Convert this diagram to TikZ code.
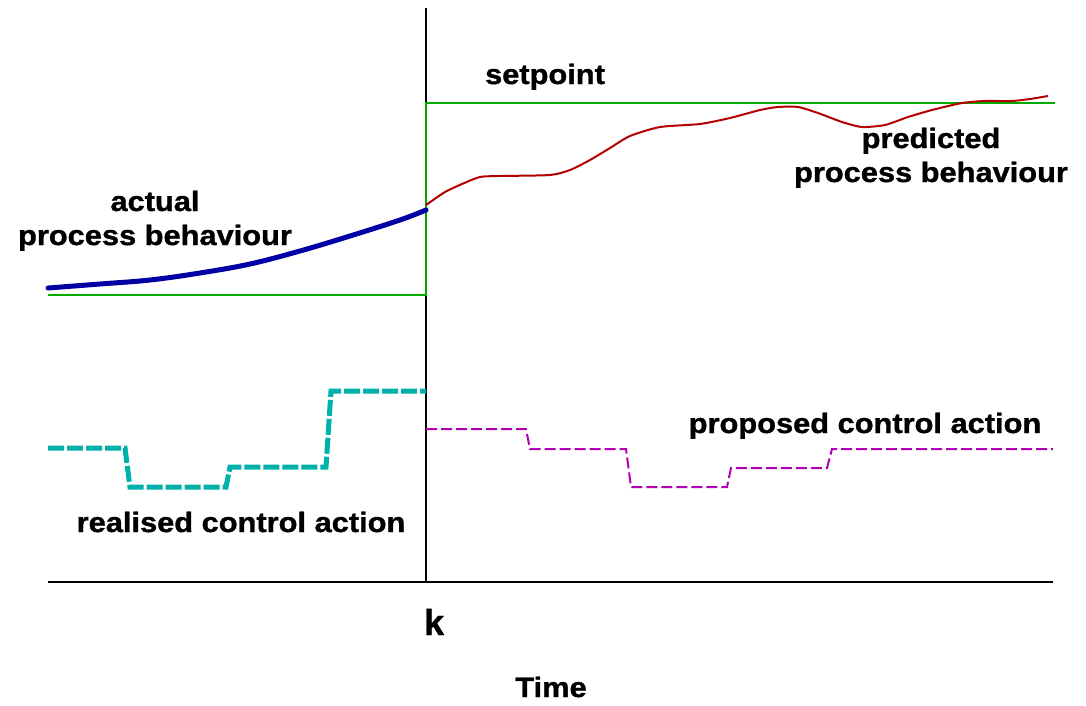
\documentclass[tikz,border=0pt]{standalone}
\usepackage{fontspec}
\newfontfamily\labfont[FakeStretch=1.1, BoldFeatures={FakeBold=1.2}]{Liberation Sans}
\newfontfamily\kfont[BoldFeatures={FakeBold=1.2}]{Liberation Sans}
\definecolor{spgreen}{RGB}{0,170,0}
\definecolor{actblue}{RGB}{0,0,165}
\definecolor{predred}{RGB}{180,0,0}
\definecolor{realteal}{RGB}{0,176,170}
\definecolor{propmag}{RGB}{180,0,180}
\tikzset{
  lab/.style={font=\labfont\bfseries\fontsize{28}{34}\selectfont, align=center, inner sep=0pt, anchor=base},
  axisline/.style={draw=black, line width=1.8pt},
  spline/.style={draw=spgreen, line width=2.2pt},
  actline/.style={draw=actblue, line width=5pt, line cap=round},
  predline/.style={draw=predred, line width=2pt, line join=round},
  realline/.style={draw=realteal, line width=5pt, dash pattern=on 16pt off 3pt},
  propline/.style={draw=propmag, line width=2pt, dash pattern=on 11pt off 4pt},
}
\begin{document}
\begin{tikzpicture}[x=1pt,y=-1pt]
\useasboundingbox (0,0) rectangle (1086,705);
\fill[white] (0,0) rectangle (1086,705);
% axes
\coordinate (ytop) at (426,8);
\coordinate (k0) at (426,582);
\coordinate (xl) at (48,582);
\coordinate (xr) at (1053,582);
\draw[axisline] (ytop) -- (k0);
\draw[axisline] (xl) -- (xr);
% setpoint
\coordinate (sp0) at (48,295);
\coordinate (sp1) at (426,295);
\coordinate (sp2) at (426,103);
\coordinate (sp3) at (1055,103);
\draw[spline] (sp0) -- (sp1) -- (sp2) -- (sp3);
% actual process behaviour
\draw[actline] plot[smooth, tension=0.6] coordinates {(48,288) (100,284) (150,280) (200,273) (250,264) (300,251) (350,236) (400,220) (426,210)};
% predicted
\draw[predline] plot[smooth, tension=0.4] coordinates {(426,205) (445,192) (462,184) (480,177) (500,176) (550,175) (570,170) (590,160) (610,148) (630,136) (660,127) (700,124) (730,118) (760,110) (778,107) (798,107) (818,113) (842,122) (862,127) (885,125) (908,117) (932,110) (962,103) (985,101) (1012,101) (1030,99) (1048,96)};
% realised control action
\draw[realline] (48,448) -- (125,448) -- (130,487) -- (226,487) -- (230,467) -- (326,467) -- (331,391) -- (426,391);
% proposed control action
\draw[propline] (426,429) -- (526,429) -- (530,449) -- (626,449) -- (631,487) -- (727,487) -- (731,468) -- (827,468) -- (832,449) -- (1053,449);
% labels
\node[lab] (setp) at (545,84) {setpoint};
\node[lab] (act) at (155,245) {actual\\process behaviour};
\node[lab] (pred) at (931,182) {predicted\\process behaviour};
\node[lab] (prop) at (865,433) {proposed control action};
\node[lab] (real) at (241,532) {realised control action};
\node[font=\kfont\bfseries\fontsize{36}{36}\selectfont, anchor=base, inner sep=0pt] (k) at (434,635) {k};
\node[lab] (time) at (551,697) {Time};
\end{tikzpicture}
\end{document}
